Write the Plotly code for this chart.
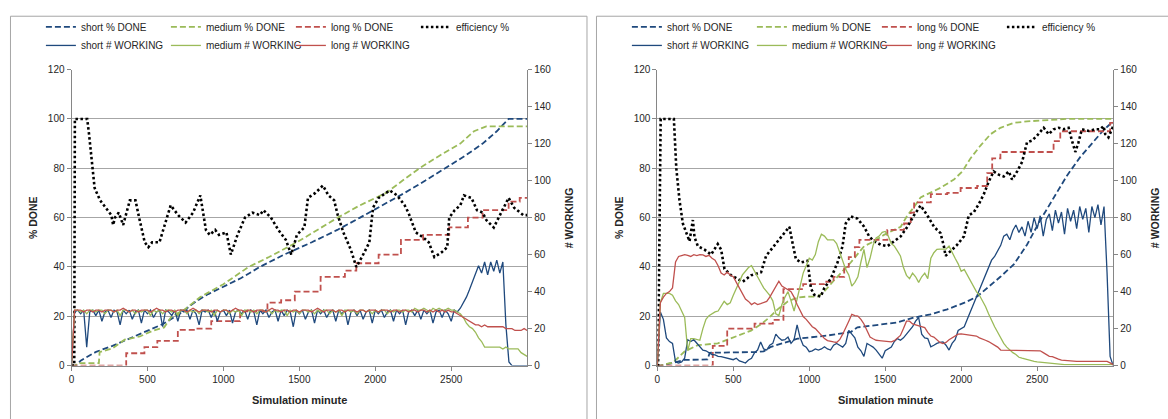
import plotly.graph_objects as go

W, H = 1168, 419

# ---------------- data: scenario A (left panel) ----------------
# sampling grid (minutes) for the "# WORKING" series
work_minutes = list(range(0, 3001, 20))

a_short_work = [
    0, 29, 30, 28, 30, 10, 29, 30, 27, 30,
    24, 29, 30, 26, 30, 29, 22, 30, 28, 30,
    25, 29, 30, 23, 30, 28, 30, 26, 29, 30,
    21, 30, 29, 27, 30, 24, 30, 29, 30, 25,
    30, 28, 22, 30, 29, 30, 26, 30, 24, 29,
    30, 27, 30, 23, 29, 30, 28, 30, 25, 30,
    29, 22, 30, 28, 30, 26, 29, 30, 24, 30,
    27, 30, 29, 21, 30, 28, 30, 25, 29, 30,
    23, 30, 28, 30, 26, 29, 30, 24, 30, 28,
    30, 22, 29, 30, 27, 30, 25, 29, 30, 23,
    30, 28, 30, 26, 29, 30, 24, 30, 28, 30,
    22, 29, 30, 27, 30, 25, 30, 28, 30, 23,
    29, 30, 26, 30, 28, 24, 30, 29, 31, 34,
    37, 41, 45, 49, 54, 50, 56, 49, 56, 51,
    57, 50, 56, 22, 2, 0, 0, 0, 0, 0,
    0,
]
a_medium_work = [
    0, 30, 30, 29, 30, 28, 30, 30, 29, 30,
    30, 28, 30, 30, 29, 30, 27, 30, 30, 29,
    30, 28, 30, 29, 30, 30, 27, 30, 29, 30,
    28, 30, 30, 29, 30, 27, 30, 30, 28, 30,
    29, 30, 28, 30, 30, 29, 30, 27, 30, 29,
    30, 30, 28, 30, 29, 30, 27, 30, 30, 29,
    30, 28, 30, 30, 29, 30, 28, 30, 29, 30,
    30, 27, 30, 29, 30, 28, 30, 30, 29, 30,
    28, 30, 29, 30, 30, 28, 30, 29, 30, 27,
    30, 30, 29, 30, 28, 30, 30, 29, 30, 28,
    30, 29, 30, 30, 28, 30, 29, 30, 30, 29,
    30, 30, 29, 31, 30, 30, 31, 30, 29, 31,
    30, 31, 30, 30, 31, 30, 30, 29, 28, 26,
    23, 21, 20, 18, 15, 13, 10, 10, 10, 10,
    10, 10, 9, 10, 9, 9, 9, 9, 7, 6,
    5,
]
a_long_work = [
    0, 30, 30, 30, 29, 30, 30, 29, 30, 30,
    29, 30, 30, 30, 29, 30, 30, 31, 30, 29,
    30, 30, 29, 30, 30, 30, 29, 30, 31, 30,
    30, 29, 30, 30, 29, 30, 30, 30, 29, 30,
    31, 30, 29, 30, 30, 30, 29, 30, 30, 29,
    30, 30, 29, 30, 31, 30, 30, 29, 30, 30,
    29, 30, 30, 30, 29, 30, 31, 30, 30, 29,
    30, 30, 29, 30, 30, 29, 30, 30, 30, 29,
    30, 31, 30, 29, 30, 30, 30, 29, 30, 30,
    29, 30, 30, 30, 29, 30, 30, 29, 30, 30,
    30, 29, 30, 30, 30, 29, 30, 30, 29, 30,
    30, 29, 30, 30, 29, 30, 30, 29, 30, 29,
    30, 29, 30, 29, 30, 29, 29, 28, 27, 26,
    25, 24, 23, 22, 22, 21, 22, 21, 21, 21,
    21, 21, 21, 20, 20, 20, 19, 19, 19, 20,
    19,
]

a_short_done_min = [0, 30, 60, 162, 270, 381, 490, 600, 700, 819, 900, 1000, 1117, 1240,
                    1400, 1582, 1750, 1900, 2050, 2193, 2330, 2462, 2590, 2707, 2800, 2878, 3000]
a_short_done = [0, 0, 2, 5.6, 8, 10.9, 13.8, 16.8, 20.5, 26, 29, 32, 35.5, 40,
                45, 50, 55, 60, 65, 70, 75, 80, 85, 90, 95, 100, 100]

a_medium_done_min = [0, 25, 40, 180, 185, 270, 350, 450, 530, 610, 660, 740, 848, 1000, 1166,
                     1300, 1484, 1620, 1753, 1900, 2071, 2180, 2291, 2420, 2560, 2650, 2731, 3000]
a_medium_done = [0, 0, 1, 1, 5.5, 7, 10.5, 11.8, 14, 15.5, 20, 22.5, 27.8, 33, 40,
                 44, 50, 55, 60, 65, 70, 75, 80, 85, 90, 95, 97, 97]

a_long_done_min = [0, 360, 480, 565, 700, 815, 920, 1110, 1290, 1380, 1470, 1640, 1800, 1875,
                   2022, 2169, 2315, 2487, 2610, 2707, 2878, 2951, 3000]
a_long_done = [0, 5, 7.5, 10, 14.5, 15, 18, 22, 25.5, 26.5, 30, 36, 38.5, 41.5,
               45, 51, 53, 56, 60, 63, 66.5, 68, 68]

a_eff_min = [0, 18, 22, 103, 115, 134, 152, 188, 225, 262, 274, 286, 311, 340, 384, 421, 445,
             482, 506, 531, 579, 653, 702, 751, 800, 848, 885, 910, 946, 971, 1020, 1049, 1093,
             1142, 1191, 1240, 1264, 1313, 1362, 1411, 1447, 1484, 1533, 1557, 1606, 1655, 1692,
             1729, 1753, 1790, 1839, 1875, 1912, 1961, 1985, 2022, 2095, 2144, 2193, 2218, 2267,
             2315, 2352, 2389, 2438, 2474, 2487, 2523, 2560, 2584, 2633, 2670, 2707, 2731, 2780,
             2829, 2878, 2914, 2951, 2975, 3000]
a_eff = [0, 0, 100, 100, 94, 82, 72, 67, 64, 61, 57, 60, 62, 57, 67, 67, 60,
         50, 48, 50, 50, 65, 61, 58, 62, 69, 55, 53, 55, 53, 54, 45, 53,
         60, 62, 61, 63, 60, 55, 51, 45, 53, 56, 68, 70, 73, 69,
         67, 61, 54, 47, 40, 44, 50, 64, 68, 71, 69, 65, 62, 54,
         52, 50, 44, 46, 48, 60, 63, 65, 69, 68, 63, 62, 59, 56,
         62, 68, 64, 62, 61, 61]

# ---------------- data: scenario B (right panel) ----------------
b_short_work = [
    0, 29, 25, 15, 13, 12, 2, 1.4, 2, 4,
    14, 13, 14, 12, 10, 8.4, 8, 7, 6, 5.8,
    5, 4.9, 4.5, 4, 3.5, 3.2, 4, 2.5, 2, 1.4,
    3, 4, 7, 8.4, 12.8, 9, 8.4, 11, 12, 17,
    15, 13.7, 14, 15.4, 12, 14, 22, 15, 11, 10,
    7.5, 8, 9, 8.4, 9, 10.2, 9, 8.4, 11, 12,
    11, 10, 12, 19, 17, 15, 10, 8, 5, 12,
    11, 10, 8.4, 6, 4, 8, 9, 10, 13, 14.6,
    13.7, 15, 17, 19, 21, 24, 26, 17, 15, 14.6,
    10.2, 11, 12, 12.5, 12.8, 11, 8.4, 12, 14, 19,
    20, 21, 25, 29, 34, 37, 41, 45, 50, 53,
    57, 59, 62, 65, 70, 71, 68, 73, 76, 72,
    75, 70, 78, 72, 80, 74, 81, 70, 79, 82,
    73, 84, 77, 83, 71, 85, 78, 84, 74, 86,
    79, 85, 72, 86, 80, 87, 76, 86, 50, 5,
    0,
]
b_medium_work = [
    0, 34, 39, 39, 39, 38, 35, 33, 29, 26,
    8, 14.6, 14.6, 14, 13.7, 20, 25, 27, 28, 29,
    29.5, 32, 34.7, 33, 34, 38, 42, 45, 49, 51,
    53, 54, 51, 48.8, 45, 42, 40, 38, 35, 28,
    27, 33, 37, 40, 35, 29.5, 36, 44, 50, 54,
    58, 57, 60, 67, 71, 70, 68, 68, 68, 66,
    61, 56, 52, 49, 43, 45, 48, 56, 62.8, 53,
    58, 65, 69, 70, 72, 72.5, 70, 66, 64.6, 62,
    59.3, 53, 48.8, 47, 50, 48, 45, 48, 50, 47,
    58, 61, 62.8, 63, 62.8, 63, 64.6, 61, 58, 55,
    51, 52, 49, 45.3, 43, 40, 38, 35, 32, 28,
    24, 21, 18, 15, 12, 10, 8.4, 7, 6, 4.5,
    4, 3.5, 3, 2.5, 2.3, 2, 1.8, 1.5, 1.4, 1.2,
    1, 1, 0.8, 0.6, 0.5, 0.5, 0.5, 0.5, 0.5, 0.5,
    0.5, 0.5, 0.5, 0.5, 0.5, 0.5, 0.5, 0.5, 0.5, 0.5,
    0.5,
]
b_long_work = [
    0, 34, 37, 39, 40, 42, 56, 59, 59.5, 60,
    59.6, 59, 60, 59.5, 60, 59.8, 59, 59.6, 58, 57,
    54, 50, 49, 50.5, 49, 48, 45, 42, 39, 36,
    34.7, 33, 34, 33, 33.5, 34, 34.7, 37, 40, 43,
    45.6, 43, 41.8, 41, 40, 37, 33, 30, 26.5, 25,
    23, 21, 20, 18, 16, 14.6, 13.5, 13, 12.8, 12.5,
    14, 17, 21, 24, 27.7, 27, 26.8, 25, 22.5, 19,
    15.4, 14.5, 13.7, 13.5, 13.3, 13.3, 13, 12.8, 13.5, 15,
    16.3, 20, 24, 24, 22.5, 22, 21.5, 21, 20.5, 18,
    16, 15.4, 14, 12.5, 11.9, 12.5, 14, 15, 16, 17,
    17.2, 17, 16.8, 16.5, 16.3, 16, 15, 14.5, 13.7, 13,
    12, 11, 10, 8.4, 8.4, 8.4, 8.4, 8.4, 8.4, 8.4,
    8.4, 8.4, 8.4, 8.4, 8.4, 8.4, 8, 7, 6, 5,
    4.9, 4, 3.5, 3, 2.8, 2.5, 2.3, 2.3, 2.3, 2.3,
    2.3, 2.3, 2.3, 2.3, 2.3, 2.3, 2.3, 2.3, 2.3, 1.5,
    0.5,
]

b_short_done_min = [0, 20, 100, 179, 330, 345, 650, 700, 748, 879, 923, 1120, 1273, 1317, 1492,
                    1580, 1689, 1799, 1908, 2018, 2105, 2171, 2258, 2346, 2433, 2521, 2608, 2696,
                    2783, 2871, 2937, 3000]
b_short_done = [0, 0, 1, 2.3, 2.5, 5.2, 5.5, 5.8, 7.6, 10.3, 10.9, 12.2, 13.6, 15.5, 16.8,
                17.5, 19.5, 20.8, 22.8, 25.4, 28, 31.3, 36, 41, 49, 59, 68, 77,
                84.5, 91, 95.5, 99]

b_medium_done_min = [0, 20, 80, 100, 179, 267, 398, 508, 617, 683, 737, 792, 858, 923, 989, 1055,
                     1098, 1164, 1230, 1273, 1361, 1427, 1492, 1536, 1602, 1646, 1689, 1733, 1799,
                     1864, 1952, 2007, 2061, 2127, 2193, 2258, 2346, 2433, 2696, 3000]
b_medium_done = [0, 0, 1, 1, 5.7, 8.3, 9, 11.6, 14.2, 16.8, 19.5, 22.8, 26, 27.6, 28, 28,
                 30, 34.6, 39.2, 41.8, 48.4, 50.4, 53, 54.3, 56.3, 60.9, 64.2, 68.2, 70.1,
                 72.1, 75.4, 78.7, 84, 89.2, 93.8, 96.4, 98.4, 99, 100, 100]

b_long_done_min = [0, 365, 460, 640, 760, 830, 960, 1100, 1160, 1230, 1260, 1300, 1330, 1514,
                   1624, 1668, 1690, 1800, 1908, 1996, 2105, 2171, 2204, 2258, 2608, 2652, 2980, 3000]
b_long_done = [0, 8, 15, 17, 18.5, 31, 33, 34, 36, 40, 44, 48, 51, 55,
               57.6, 62, 66.2, 69.5, 70, 72, 72.8, 78, 84, 86.6, 91, 95, 98.4, 98.4]

b_eff_min = [0, 5, 22, 109, 125, 146, 168, 190, 212, 234, 245, 267, 311, 354, 398, 420, 442, 486,
             529, 562, 617, 683, 716, 759, 814, 869, 890, 912, 945, 989, 1011, 1033, 1076, 1098,
             1142, 1186, 1219, 1240, 1273, 1317, 1361, 1394, 1427, 1470, 1514, 1558, 1602, 1646,
             1689, 1733, 1777, 1821, 1864, 1886, 1897, 1930, 1974, 2018, 2050, 2083, 2116, 2149,
             2182, 2214, 2247, 2280, 2313, 2335, 2368, 2401, 2433, 2466, 2499, 2543, 2576, 2608,
             2641, 2674, 2707, 2729, 2751, 2772, 2794, 2838, 2882, 2915, 2937, 2948, 2969, 3000]
b_eff = [0, 0, 100, 100, 80, 67, 57.6, 53.7, 50.4, 59, 52, 48.4, 47, 45, 49.3, 47, 39.2, 36.6,
         35.3, 34, 36.6, 37.9, 44.5, 47.8, 52.4, 56.3, 49.7, 43.2, 41.8, 42.5, 31.3, 28.7, 28, 31.3,
         35.3, 41.8, 48.4, 57.6, 60.5, 59.6, 56.3, 52.4, 50.4, 49, 48.4, 50.4, 52.4, 56.3,
         60.9, 64.9, 60.9, 56.3, 53.7, 48.4, 44.5, 46.4, 49, 52.4, 60.9, 62.2, 65.5, 69.5,
         74.7, 78.7, 77.4, 76.7, 78.7, 75.4, 78.7, 82.6, 90.5, 91.2, 93.2, 96.4, 93.8, 95.8,
         96.4, 95.8, 96.4, 91.2, 86.6, 90.5, 95.8, 95.1, 95.8, 95.8, 97.1, 93.8, 92.5, 97]

x_ticks = [0, 500, 1000, 1500, 2000, 2500]

# ---------------- styling ----------------
BLUE = "#1F497D"
GREEN = "#9BBB59"
RED = "#C0504D"
GRID = "#A6A6A6"
AXIS = "#868686"
TXT = "#262626"
FONT = "Liberation Sans, Arial, sans-serif"
DASH = "6px,3px"
DOT = "2.5px,2.5px"

# pixel geometry of the two plot areas and chart frames
LX0, LX1 = 68.7, 525.5
RX0, RX1 = 656.0, 1113.0
PT, PB = 65.3, 369.3
FRAME_A, FRAME_B = 7.5, 595.0
FRAME_TOP = 10.5


def fx(p):
    return p / W


def fy(p):
    return 1 - p / H


fig = go.Figure()


def add_panel(xa, ya_left, ya_right, leg_top, leg_bot, done, eff, work):
    (s_m, s_v), (m_m, m_v), (l_m, l_v) = done
    for name, xs, ys, col, shape in (
        ("short % DONE", s_m, s_v, BLUE, "linear"),
        ("medium % DONE", m_m, m_v, GREEN, "linear"),
        ("long % DONE", l_m, l_v, RED, "hv"),
    ):
        fig.add_trace(go.Scatter(
            x=xs, y=ys, name=name, mode="lines", xaxis=xa, yaxis=ya_left,
            line=dict(color=col, width=1.8, dash=DASH, shape=shape), legend=leg_top))
    fig.add_trace(go.Scatter(
        x=eff[0], y=eff[1], name="efficiency %", mode="lines", xaxis=xa, yaxis=ya_left,
        line=dict(color="#000000", width=2.6, dash=DOT), legend=leg_top))
    for name, ys, col in (
        ("short # WORKING", work[0], BLUE),
        ("medium # WORKING", work[1], GREEN),
        ("long # WORKING", work[2], RED),
    ):
        fig.add_trace(go.Scatter(
            x=work_minutes, y=ys, name=name, mode="lines", xaxis=xa, yaxis=ya_right,
            line=dict(color=col, width=1.3), legend=leg_bot))


add_panel("x", "y", "y2", "legend", "legend2",
          ((a_short_done_min, a_short_done), (a_medium_done_min, a_medium_done),
           (a_long_done_min, a_long_done)),
          (a_eff_min, a_eff), (a_short_work, a_medium_work, a_long_work))
add_panel("x2", "y3", "y4", "legend3", "legend4",
          ((b_short_done_min, b_short_done), (b_medium_done_min, b_medium_done),
           (b_long_done_min, b_long_done)),
          (b_eff_min, b_eff), (b_short_work, b_medium_work, b_long_work))

tickfont = dict(family=FONT, size=10, color=TXT)
ydom = [fy(PB), fy(PT)]


def xaxis(dom, anchor):
    return dict(domain=dom, anchor=anchor, range=[0, 3000], tickvals=x_ticks,
                showgrid=False, zeroline=False, showline=True, linecolor=AXIS,
                ticks="outside", ticklen=4, tickcolor=AXIS, tickfont=tickfont)


def yleft(anchor):
    return dict(domain=ydom, anchor=anchor, range=[0, 120], dtick=20, showgrid=True,
                gridcolor=GRID, gridwidth=1, zeroline=False, showline=True, linecolor=AXIS,
                ticks="outside", ticklen=4, tickcolor=AXIS, tickfont=tickfont)


def yright(anchor, over):
    return dict(domain=ydom, anchor=anchor, overlaying=over, side="right", range=[0, 160],
                dtick=20, showgrid=False, zeroline=False, showline=True, linecolor=AXIS,
                ticks="outside", ticklen=4, tickcolor=AXIS, tickfont=tickfont)


def legend(x_px, y_px):
    return dict(orientation="h", x=fx(x_px), y=fy(y_px), xanchor="left", yanchor="middle",
                entrywidth=80, entrywidthmode="pixels", bgcolor="rgba(0,0,0,0)",
                font=dict(family=FONT, size=10, color=TXT), itemwidth=30,
                tracegroupgap=0, itemclick=False)


annotations = []
for (x0, x1), frame_left in (((LX0, LX1), FRAME_A), ((RX0, RX1), FRAME_B)):
    common = dict(xref="paper", yref="paper", showarrow=False,
                  xanchor="center", yanchor="middle")
    annotations.append(dict(text="<b>Simulation minute</b>", x=fx((x0 + x1) / 2), y=fy(405),
                            font=dict(family=FONT, size=11, color=TXT), **common))
    annotations.append(dict(text="<b>% DONE</b>", x=fx(frame_left + 22), y=fy((PT + PB) / 2),
                            textangle=-90, font=dict(family=FONT, size=10.5, color=TXT), **common))
    annotations.append(dict(text="<b># WORKING</b>", x=fx(x1 + 41.5), y=fy((PT + PB) / 2),
                            textangle=-90, font=dict(family=FONT, size=10.5, color=TXT), **common))

shapes = [
    dict(type="rect", xref="paper", yref="paper", x0=fx(FRAME_A), x1=fx(585.5),
         y0=fy(430), y1=fy(FRAME_TOP), line=dict(color="#A6A6A6", width=1), layer="below"),
    dict(type="rect", xref="paper", yref="paper", x0=fx(FRAME_B), x1=fx(1180),
         y0=fy(430), y1=fy(FRAME_TOP), line=dict(color="#A6A6A6", width=1), layer="below"),
]

fig.update_layout(
    width=W, height=H, margin=dict(l=0, r=0, t=0, b=0),
    paper_bgcolor="white", plot_bgcolor="white",
    font=dict(family=FONT, size=10, color=TXT),
    xaxis=xaxis([fx(LX0), fx(LX1)], "y"),
    yaxis=yleft("x"),
    yaxis2=yright("x", "y"),
    xaxis2=xaxis([fx(RX0), fx(RX1)], "y3"),
    yaxis3=yleft("x2"),
    yaxis4=yright("x2", "y3"),
    legend=legend(38, 21.5),
    legend2=legend(38, 40.5),
    legend3=legend(38 + 587.5, 21.5),
    legend4=legend(38 + 587.5, 40.5),
    annotations=annotations,
    shapes=shapes,
)

fig.write_html("out.html")
